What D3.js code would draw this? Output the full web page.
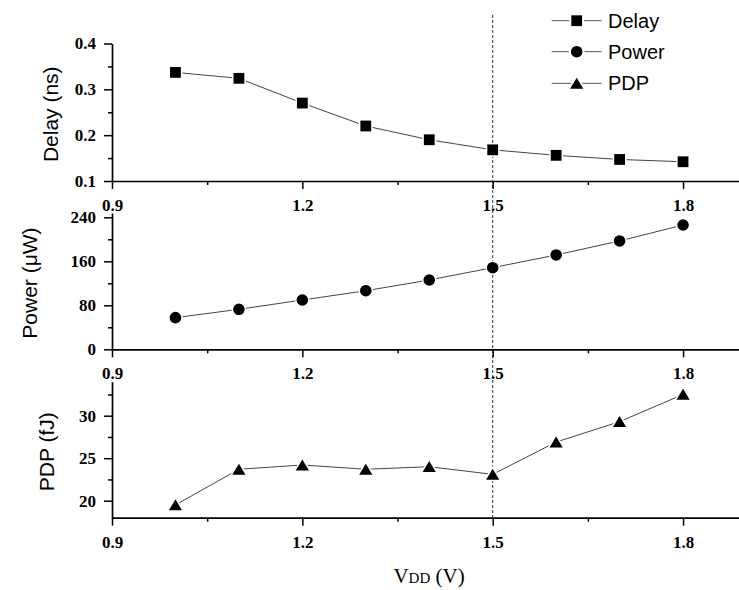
<!DOCTYPE html>
<html>
<head>
<meta charset="utf-8">
<script src="https://cdn.jsdelivr.net/npm/d3@7"></script>
<style>
  html, body { margin: 0; padding: 0; background: #fff; }
  svg { display: block; }
</style>
</head>
<body>
<svg id="chart" width="739" height="590"></svg>
<script>
// Supply voltage sweep and the three measured quantities
const vdd = [1.0, 1.1, 1.2, 1.3, 1.4, 1.5, 1.6, 1.7, 1.8];
const delayNs = [0.337, 0.324, 0.270, 0.220, 0.190, 0.168, 0.156, 0.147, 0.142];
const powerUW = [57.5, 72.7, 89.6, 106.5, 126, 148.4, 171.5, 197, 226];
const pdpFJ = [19.5, 23.7, 24.2, 23.7, 24.0, 23.1, 26.9, 29.3, 32.5];

const xMajorTicks = [0.9, 1.2, 1.5, 1.8];
const xMinorTicks = [1.05, 1.35, 1.65];
const delayTicks = [0.1, 0.2, 0.3, 0.4];
const delayMinor = [0.15, 0.25, 0.35];
const powerTicks = [0, 80, 160, 240];
const powerMinor = [40, 120, 200];
const pdpTicks = [20, 25, 30];
const pdpMinor = [22.5, 27.5, 32.5];
const markedVdd = 1.5;

const legendNames = ["Delay", "Power", "PDP"];

const svg = d3.select("#chart");
const serif = "'Liberation Serif', 'Times New Roman', serif";
const sans = "'Liberation Sans', Arial, sans-serif";

const x = d3.scaleLinear().domain([0.9, 1.9]).range([112, 746.5]);

const panels = [
  { values: delayNs, y: d3.scaleLinear().domain([0.1, 0.4]).range([181, 43.5]),
    ticks: delayTicks, minor: delayMinor, fmt: d3.format(".1f"),
    label: "Delay (ns)", labelX: 58, marker: "square" },
  { values: powerUW, y: d3.scaleLinear().domain([0, 248]).range([349.3, 212.9]),
    ticks: powerTicks, minor: powerMinor, fmt: d3.format("d"),
    label: "Power  (\u03BCW)", labelX: 37, marker: "circle" },
  { values: pdpFJ, y: d3.scaleLinear().domain([18, 34]).range([517.7, 381.7]),
    ticks: pdpTicks, minor: pdpMinor, fmt: d3.format("d"),
    label: "PDP (fJ)", labelX: 54, marker: "triangle" }
];

function markerPath(kind) {
  if (kind === "square") return "M-5.4,-5.4H5.4V5.4H-5.4Z";
  if (kind === "circle") return d3.symbol(d3.symbolCircle, Math.PI * 5.8 * 5.8)();
  return "M0,-5.6L6.6,5.4L-6.6,5.4Z";
}

// Vertical reference line at the nominal supply voltage
svg.append("line")
  .attr("x1", x(markedVdd)).attr("x2", x(markedVdd))
  .attr("y1", 15).attr("y2", 517.7)
  .attr("stroke", "#333").attr("stroke-width", 1)
  .attr("stroke-dasharray", "3,2");

panels.forEach(p => {
  const g = svg.append("g");
  const yBase = p.y.range()[0];

  // x axis (major + minor ticks)
  const xa = g.append("g").attr("transform", `translate(0,${yBase})`)
    .call(d3.axisBottom(x).tickValues(xMajorTicks).tickSize(8).tickSizeOuter(0).tickFormat(d3.format(".1f")));
  xa.selectAll("text").attr("y", 30).attr("dy", null);
  g.append("g").attr("transform", `translate(0,${yBase})`)
    .call(d3.axisBottom(x).tickValues(xMinorTicks).tickSize(4).tickSizeOuter(0).tickFormat(""))
    .select(".domain").remove();

  // y axis (major + minor ticks)
  g.append("g").attr("transform", `translate(${x(0.9)},0)`)
    .call(d3.axisLeft(p.y).tickValues(p.ticks).tickSize(8).tickSizeOuter(0).tickPadding(8).tickFormat(p.fmt));
  g.append("g").attr("transform", `translate(${x(0.9)},0)`)
    .call(d3.axisLeft(p.y).tickValues(p.minor).tickSize(4).tickSizeOuter(0).tickFormat(""))
    .select(".domain").remove();

  g.selectAll(".domain").attr("stroke", "#000").attr("stroke-width", 1.7);
  g.selectAll(".tick line").attr("stroke", "#000").attr("stroke-width", 1.5);
  g.selectAll(".tick text")
    .style("font-family", serif).style("font-weight", "bold")
    .style("font-size", "17px").attr("fill", "#000");

  // y axis title
  g.append("text")
    .attr("transform", `translate(${p.labelX},${(p.y.range()[0] + p.y.range()[1]) / 2 + 2}) rotate(-90)`)
    .attr("text-anchor", "middle")
    .style("font-family", sans).style("font-size", "21px").attr("fill", "#000")
    .text(p.label);

  // connecting line
  const pts = vdd.map((v, i) => [x(v), p.y(p.values[i])]);
  g.append("path")
    .attr("d", d3.line()(pts))
    .attr("fill", "none").attr("stroke", "#444").attr("stroke-width", 1);

  // markers, with a thin white halo that leaves a gap at the line ends
  g.selectAll(".mk").data(pts).join("path")
    .attr("class", "mk")
    .attr("transform", d => `translate(${d[0]},${d[1]})`)
    .attr("d", markerPath(p.marker))
    .attr("fill", "#000").attr("stroke", "#fff").attr("stroke-width", 3)
    .attr("paint-order", "stroke");
});

// Legend
const legendY = [20.7, 51.7, 83.3];
const markers = ["square", "circle", "triangle"];
legendNames.forEach((name, i) => {
  const lg = svg.append("g").attr("transform", `translate(0,${legendY[i]})`);
  lg.append("line").attr("x1", 551.7).attr("x2", 601.7).attr("y1", 0).attr("y2", 0)
    .attr("stroke", "#555").attr("stroke-width", 1);
  lg.append("path").attr("transform", "translate(576.7,0)")
    .attr("d", markerPath(markers[i]))
    .attr("fill", "#000").attr("stroke", "#fff").attr("stroke-width", 4)
    .attr("paint-order", "stroke");
  lg.append("text").attr("x", 608).attr("y", 7)
    .style("font-family", sans).style("font-size", "20px").attr("fill", "#000")
    .text(name);
});

// x axis title: V followed by smaller DD
const xt = svg.append("text")
  .attr("x", 429).attr("y", 583)
  .attr("text-anchor", "middle")
  .style("font-family", serif).style("font-size", "21px").attr("fill", "#000");
xt.append("tspan").text("V");
xt.append("tspan").style("font-size", "15px").text("DD");
xt.append("tspan").text(" (V)");
</script>
</body>
</html>
